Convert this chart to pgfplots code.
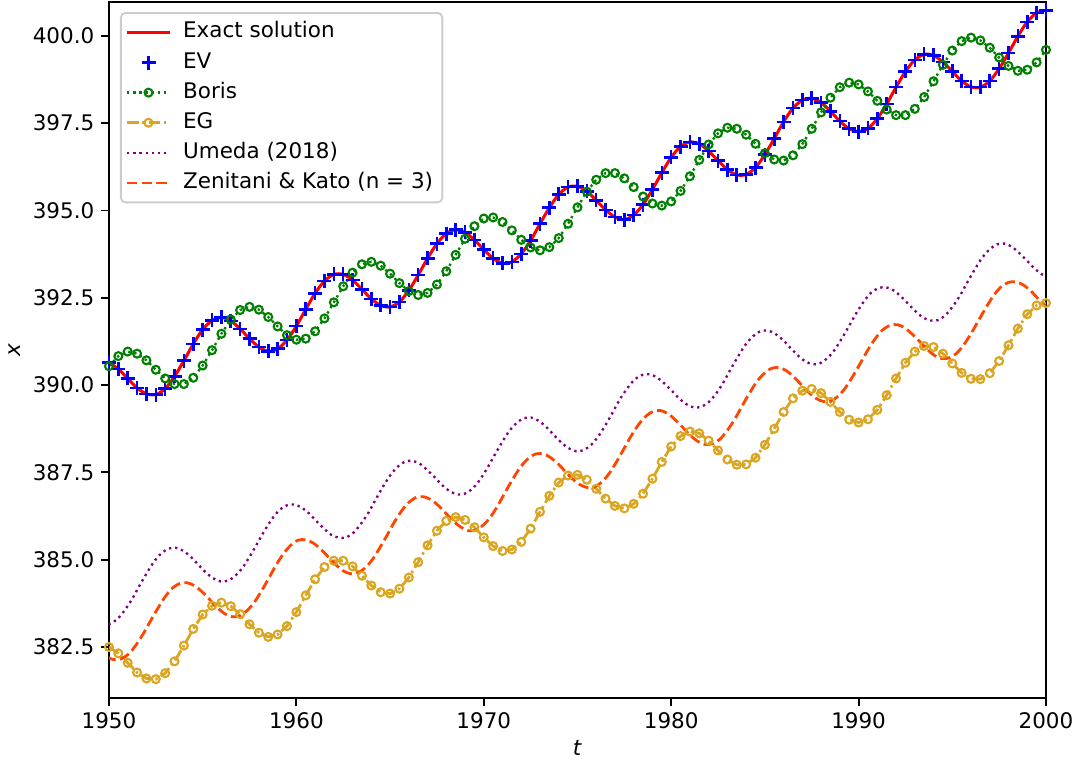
\documentclass[border=0pt]{standalone}
\usepackage{fontspec}
\setmainfont{DejaVu Sans}
\usepackage{pgfplots}
\usepackage{pgfplotstable}
\pgfplotsset{compat=1.18}
\usetikzlibrary{calc}

\definecolor{mplgreen}{HTML}{008000}
\definecolor{goldenrod}{HTML}{DAA520}
\definecolor{mplpurple}{HTML}{800080}
\definecolor{orangered}{HTML}{FF4500}

\pgfplotstableread{
t exact boris eg
1950.0 390.64 390.54 382.50
1950.5 390.46 390.83 382.32
1951.0 390.19 390.96 382.05
1951.5 389.92 390.90 381.77
1952.0 389.75 390.71 381.60
1952.5 389.73 390.44 381.58
1953.0 389.90 390.19 381.75
1953.5 390.25 390.03 382.09
1954.0 390.70 390.03 382.54
1954.5 391.18 390.21 383.02
1955.0 391.59 390.56 383.43
1955.5 391.85 391.00 383.68
1956.0 391.94 391.47 383.77
1956.5 391.84 391.88 383.67
1957.0 391.61 392.15 383.44
1957.5 391.33 392.24 383.15
1958.0 391.09 392.16 382.91
1958.5 390.97 391.95 382.79
1959.0 391.04 391.68 382.86
1959.5 391.29 391.43 383.10
1960.0 391.69 391.30 383.50
1960.5 392.17 391.33 383.98
1961.0 392.63 391.54 384.44
1961.5 392.98 391.91 384.79
1962.0 393.17 392.37 384.97
1962.5 393.17 392.83 384.97
1963.0 393.01 393.22 384.81
1963.5 392.74 393.46 384.54
1964.0 392.47 393.53 384.26
1964.5 392.28 393.42 384.07
1965.0 392.24 393.19 384.03
1965.5 392.38 392.92 384.17
1966.0 392.71 392.69 384.49
1966.5 393.15 392.58 384.93
1967.0 393.63 392.64 385.41
1967.5 394.05 392.88 385.83
1968.0 394.34 393.26 386.11
1968.5 394.45 393.73 386.22
1969.0 394.37 394.19 386.14
1969.5 394.16 394.55 385.93
1970.0 393.88 394.77 385.64
1970.5 393.63 394.80 385.39
1971.0 393.49 394.67 385.25
1971.5 393.53 394.43 385.29
1972.0 393.76 394.16 385.51
1972.5 394.14 393.94 385.89
1973.0 394.62 393.86 386.37
1973.5 395.08 393.95 386.83
1974.0 395.46 394.21 387.21
1974.5 395.67 394.62 387.41
1975.0 395.69 395.09 387.43
1975.5 395.55 395.54 387.29
1976.0 395.29 395.88 387.03
1976.5 395.02 396.07 386.75
1977.0 394.81 396.07 386.54
1977.5 394.74 395.92 386.47
1978.0 394.87 395.67 386.60
1978.5 395.17 395.40 386.89
1979.0 395.60 395.20 387.32
1979.5 396.08 395.14 387.80
1980.0 396.52 395.26 388.24
1980.5 396.83 395.56 388.54
1981.0 396.96 395.98 388.67
1981.5 396.91 396.45 388.62
1982.0 396.70 396.89 388.41
1982.5 396.43 397.21 388.13
1983.0 396.17 397.37 387.87
1983.5 396.02 397.34 387.72
1984.0 396.03 397.17 387.73
1984.5 396.23 396.91 387.92
1985.0 396.60 396.64 388.29
1985.5 397.06 396.46 388.75
1986.0 397.54 396.43 389.23
1986.5 397.93 396.58 389.62
1987.0 398.16 396.90 389.84
1987.5 398.21 397.34 389.89
1988.0 398.09 397.81 389.77
1988.5 397.84 398.23 389.52
1989.0 397.56 398.53 389.23
1989.5 397.34 398.66 389.01
1990.0 397.26 398.61 388.93
1990.5 397.35 398.41 389.02
1991.0 397.63 398.14 389.29
1991.5 398.05 397.89 389.71
1992.0 398.53 397.73 390.19
1992.5 398.98 397.73 390.64
1993.0 399.31 397.91 390.96
1993.5 399.47 398.25 391.12
1994.0 399.44 398.70 391.09
1994.5 399.25 399.17 390.90
1995.0 398.98 399.58 390.62
1995.5 398.71 399.85 390.35
1996.0 398.54 399.95 390.18
1996.5 398.53 399.87 390.17
1997.0 398.71 399.66 390.34
1997.5 399.06 399.38 390.69
1998.0 399.51 399.14 391.14
1998.5 399.99 399.00 391.62
1999.0 400.40 399.03 392.03
1999.5 400.66 399.24 392.28
2000.0 400.73 399.60 392.35
}\maindata

\pgfplotstableread{
t y
1949.64 383.14
1950.03 383.16
1950.43 383.29
1950.82 383.54
1951.22 383.86
1951.61 384.24
1952.01 384.61
1952.40 384.94
1952.79 385.18
1953.19 385.32
1953.58 385.34
1953.98 385.25
1954.37 385.08
1954.77 384.86
1955.16 384.64
1955.56 384.47
1955.95 384.38
1956.35 384.40
1956.74 384.54
1957.14 384.78
1957.53 385.11
1957.93 385.48
1958.32 385.85
1958.72 386.18
1959.11 386.43
1959.50 386.56
1959.90 386.58
1960.29 386.49
1960.69 386.32
1961.08 386.10
1961.48 385.89
1961.87 385.71
1962.27 385.63
1962.66 385.64
1963.06 385.78
1963.45 386.03
1963.85 386.35
1964.24 386.73
1964.63 387.10
1965.03 387.43
1965.42 387.67
1965.82 387.81
1966.21 387.83
1966.61 387.74
1967.00 387.56
1967.40 387.35
1967.79 387.13
1968.19 386.96
1968.58 386.87
1968.98 386.89
1969.37 387.02
1969.77 387.27
1970.16 387.60
1970.55 387.97
1970.95 388.34
1971.34 388.67
1971.74 388.91
1972.13 389.05
1972.53 389.07
1972.92 388.98
1973.32 388.81
1973.71 388.59
1974.11 388.37
1974.50 388.20
1974.90 388.11
1975.29 388.13
1975.69 388.27
1976.08 388.51
1976.48 388.84
1976.87 389.21
1977.26 389.59
1977.66 389.91
1978.05 390.16
1978.45 390.29
1978.84 390.31
1979.24 390.22
1979.63 390.05
1980.03 389.84
1980.42 389.62
1980.82 389.45
1981.21 389.36
1981.61 389.38
1982.00 389.51
1982.40 389.76
1982.79 390.08
1983.18 390.46
1983.58 390.83
1983.97 391.16
1984.37 391.40
1984.76 391.54
1985.16 391.56
1985.55 391.47
1985.95 391.30
1986.34 391.08
1986.74 390.86
1987.13 390.69
1987.53 390.60
1987.92 390.62
1988.31 390.76
1988.71 391.00
1989.10 391.33
1989.50 391.70
1989.89 392.07
1990.29 392.40
1990.68 392.65
1991.08 392.78
1991.47 392.80
1991.87 392.71
1992.26 392.54
1992.66 392.32
1993.05 392.11
1993.45 391.93
1993.84 391.85
1994.24 391.86
1994.63 392.00
1995.02 392.25
1995.42 392.57
1995.81 392.95
1996.21 393.32
1996.60 393.65
1997.00 393.89
1997.39 394.03
1997.79 394.05
1998.18 393.96
1998.58 393.78
1998.97 393.57
1999.37 393.35
1999.76 393.18
2000.16 393.09
}\umeda

\pgfplotstableread{
t y
1949.84 382.23
1950.24 382.14
1950.63 382.16
1951.03 382.29
1951.42 382.54
1951.82 382.87
1952.21 383.24
1952.61 383.61
1953.00 383.94
1953.39 384.19
1953.79 384.32
1954.18 384.34
1954.58 384.25
1954.97 384.08
1955.37 383.86
1955.76 383.64
1956.16 383.46
1956.55 383.37
1956.95 383.39
1957.34 383.53
1957.74 383.77
1958.13 384.10
1958.53 384.47
1958.92 384.85
1959.31 385.17
1959.71 385.42
1960.10 385.56
1960.50 385.57
1960.89 385.48
1961.29 385.31
1961.68 385.09
1962.08 384.87
1962.47 384.69
1962.87 384.60
1963.26 384.62
1963.66 384.76
1964.05 385.00
1964.44 385.33
1964.84 385.70
1965.23 386.08
1965.63 386.41
1966.02 386.65
1966.42 386.79
1966.81 386.80
1967.21 386.71
1967.60 386.54
1967.99 386.32
1968.39 386.10
1968.79 385.93
1969.18 385.83
1969.58 385.85
1969.97 385.99
1970.37 386.23
1970.76 386.56
1971.15 386.94
1971.55 387.31
1971.94 387.64
1972.34 387.88
1972.73 388.02
1973.13 388.04
1973.52 387.94
1973.92 387.77
1974.31 387.55
1974.71 387.33
1975.10 387.16
1975.50 387.07
1975.89 387.08
1976.29 387.22
1976.68 387.46
1977.07 387.79
1977.47 388.17
1977.86 388.54
1978.26 388.87
1978.65 389.11
1979.05 389.25
1979.44 389.27
1979.84 389.18
1980.23 389.00
1980.63 388.78
1981.02 388.56
1981.42 388.39
1981.81 388.30
1982.20 388.32
1982.60 388.45
1982.99 388.70
1983.39 389.02
1983.78 389.40
1984.18 389.77
1984.57 390.10
1984.97 390.34
1985.36 390.48
1985.76 390.50
1986.15 390.41
1986.55 390.23
1986.94 390.01
1987.34 389.79
1987.73 389.62
1988.13 389.53
1988.52 389.55
1988.91 389.68
1989.31 389.93
1989.70 390.26
1990.10 390.63
1990.49 391.00
1990.89 391.33
1991.28 391.58
1991.68 391.71
1992.07 391.73
1992.47 391.64
1992.86 391.46
1993.26 391.25
1993.65 391.03
1994.05 390.85
1994.44 390.76
1994.83 390.78
1995.23 390.91
1995.62 391.16
1996.02 391.49
1996.41 391.86
1996.81 392.23
1997.20 392.56
1997.60 392.81
1997.99 392.94
1998.39 392.96
1998.78 392.87
1999.18 392.70
1999.57 392.48
1999.97 392.26
2000.36 392.08
}\zenitani

\begin{document}
\begin{tikzpicture}
\begin{axis}[
  scale only axis,
  width=401.6pt, height=298.3pt,
  xmin=1950, xmax=2000, ymin=381.04, ymax=400.97,
  xtick={1950,1960,1970,1980,1990,2000},
  ytick={382.5,385,387.5,390,392.5,395,397.5,400},
  /pgf/number format/assume math mode=true,
  xticklabel style={/pgf/number format/.cd, 1000 sep={}},
  yticklabel style={/pgf/number format/.cd, fixed, fixed zerofill, precision=1},
  tick label style={font=\fontsize{9.2}{11}\selectfont, inner sep=2.6pt},
  tick align=outside, tick pos=left,
  major tick length=3.5pt,
  every tick/.style={black, line width=0.8pt},
  axis line style={line width=0.8pt},
  every axis x label/.style={at={(rel axis cs:0.5,0)}, yshift=-21.4pt, anchor=center},
  every axis y label/.style={at={(rel axis cs:0,0.5)}, xshift=-40.3pt, rotate=90, anchor=center},
  xlabel={\textit{t}}, ylabel={\textit{x}},
  label style={font=\fontsize{9.2}{11}\selectfont},
  legend cell align=left,
  legend image code/.code={\draw[mark repeat=2,mark phase=2,#1] plot coordinates {(0pt,0pt) (9.2pt,0pt) (18.4pt,0pt)};},
  legend style={at={(0.0117,0.9856)}, anchor=north west, draw=black!20, line width=0.8pt,
    rounded corners=2pt, fill=white, font=\fontsize{9.2}{11}\selectfont,
    inner xsep=2pt, inner ysep=2.3pt, row sep=0.8pt,
    nodes={text height=6.9pt, text depth=2.2pt, inner ysep=1.5pt},
    /tikz/every odd column/.append style={column sep=3pt}},
]
\addplot[red, line width=1.3pt, smooth] table[x=t, y=exact] {\maindata};
\addlegendentry{Exact solution}
\addplot[blue, only marks, mark=+, mark size=3pt, mark options={line width=1.1pt}] table[x=t, y=exact] {\maindata};
\addlegendentry{EV}
\addplot[mplgreen, line width=1pt, dash pattern=on 1pt off 1.65pt, mark=o, mark size=1.7pt,
  mark options={solid, line width=0.9pt, fill=white}] table[x=t, y=boris] {\maindata};
\addlegendentry{Boris}
\addplot[goldenrod, line width=1.2pt, dash pattern=on 5pt off 1.6pt on 1pt off 1.6pt, mark=o, mark size=1.7pt,
  mark options={solid, line width=0.9pt, fill=white}] table[x=t, y=eg] {\maindata};
\addlegendentry{EG}
\addplot[mplpurple, line width=1pt, dash pattern=on 1pt off 1.65pt, smooth] table[x=t, y=y] {\umeda};
\addlegendentry{Umeda (2018)}
\addplot[orangered, line width=1.2pt, dash pattern=on 4.4pt off 1.9pt, smooth] table[x=t, y=y] {\zenitani};
\addlegendentry{Zenitani \& Kato (n = 3)}
\end{axis}
\pgfresetboundingbox
\path ($(current axis.south west)+(-46.7pt,-27.4pt)$) rectangle ($(current axis.north east)+(13.3pt,0.86pt)$);
\end{tikzpicture}
\end{document}
